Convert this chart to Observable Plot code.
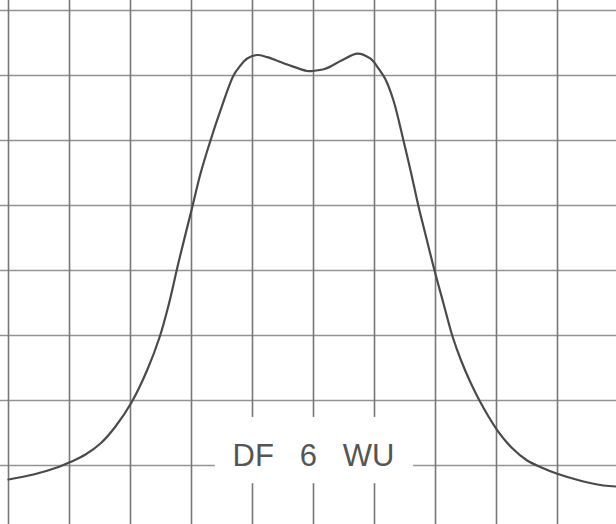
<!DOCTYPE html>
<html>
<head>
<meta charset="utf-8">
<script src="https://cdn.jsdelivr.net/npm/d3@7"></script>
<script src="https://cdn.jsdelivr.net/npm/@observablehq/plot@0.6"></script>
<style>
  html, body { margin: 0; padding: 0; background: #fff; }
  #chart svg { display: block; }
</style>
</head>
<body>
<div id="chart"></div>
<script>
// Trace values (grid divisions: x 0..10, y 0..8)
const traceX = [0, 0.410, 0.820, 1.016, 1.262, 1.508, 1.754, 2.016, 2.274, 2.475, 2.623, 2.787, 3.016, 3.148, 3.311, 3.475, 3.689, 3.803, 3.913, 4.077, 4.241, 4.569, 4.897, 4.984, 5.192, 5.459, 5.721, 5.930, 6.066, 6.175, 6.311, 6.475, 6.598, 6.721, 6.836, 6.984, 7.131, 7.279, 7.426, 7.574, 7.721, 7.869, 8.016, 8.246, 8.503, 8.738, 8.995, 9.393, 9.754, 9.967];
const traceY = [0.785, 0.862, 0.977, 1.054, 1.169, 1.338, 1.6, 1.969, 2.469, 2.969, 3.462, 4.123, 4.989, 5.492, 6.0, 6.462, 7.0, 7.154, 7.262, 7.315, 7.282, 7.169, 7.069, 7.069, 7.103, 7.231, 7.338, 7.262, 7.108, 6.949, 6.615, 6.0, 5.508, 4.989, 4.554, 4.0, 3.492, 2.985, 2.6, 2.277, 2.0, 1.754, 1.538, 1.277, 1.077, 0.969, 0.872, 0.762, 0.692, 0.677];
const gridXValues = [0, 1, 2, 3, 4, 5, 6, 7, 8, 9, 10];
const gridYValues = [0, 1, 2, 3, 4, 5, 6, 7, 8];
const labelText = "DF\u00a0\u00a0\u00a06\u00a0\u00a0\u00a0WU";
const labelX = 5;
const labelY = 1;

const trace = traceX.map((x, i) => ({x, y: traceY[i]}));

const chart = Plot.plot({
  width: 616,
  height: 524,
  margin: 0,
  style: {background: "#fff"},
  x: {domain: [0, 10], range: [8, 618], axis: null},
  y: {domain: [0, 8], range: [530, 10], axis: null},
  marks: [
    Plot.ruleY(gridYValues, {stroke: "#939393", strokeWidth: 1.6, strokeOpacity: 1}),
    Plot.ruleX(gridXValues, {stroke: "#777", strokeWidth: 1.6, strokeOpacity: 1}),
    Plot.rect([{}], {
      x1: () => labelX - 1.61, x2: () => labelX + 1.64,
      y1: () => labelY - 0.28, y2: () => labelY + 0.74,
      fill: "#fff"
    }),
    Plot.line(trace, {x: "x", y: "y", stroke: "#4a4a4a", strokeWidth: 2.2, curve: "catmull-rom"}),
    Plot.text([labelText], {
      x: () => labelX, y: () => labelY, text: d => d,
      textAnchor: "middle", lineAnchor: "bottom",
      fontSize: 31, fontFamily: "Liberation Sans, Arial, sans-serif",
      fill: "#555"
    })
  ]
});
document.getElementById("chart").append(chart);
</script>
</body>
</html>
